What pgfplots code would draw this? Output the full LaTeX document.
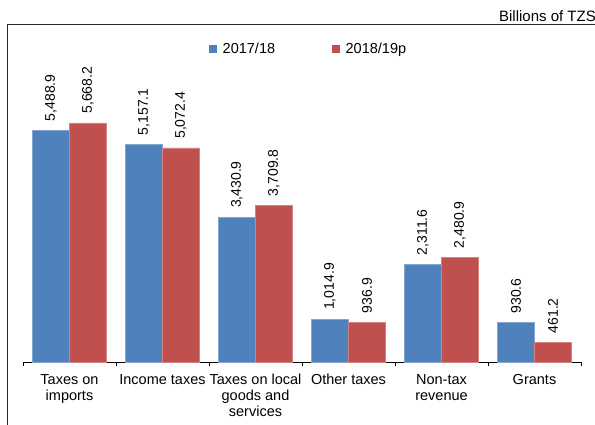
\documentclass[border=0pt]{standalone}
\usepackage{fontspec}
\setmainfont{Liberation Sans}
\usepackage{pgfplots}
\pgfplotsset{compat=1.18}
\definecolor{cblue}{HTML}{4F81BD}
\definecolor{cred}{HTML}{C0504D}
\begin{document}
\begin{tikzpicture}[x=1pt,y=1pt]
\useasboundingbox (0,0) rectangle (595,425);
\draw[line width=1pt,black!85] (7,0) -- (7,400) -- (596,400);
\node[anchor=east,font=\fontsize{15}{17}\selectfont,inner sep=0pt] at (596,409) {Billions of TZS};
\begin{axis}[
  at={(23pt,63pt)}, anchor=south west,
  scale only axis,
  width=558pt, height=337.6pt,
  ymin=0, ymax=8000,
  xmin=-0.5, xmax=5.5,
  ybar=0pt, bar width=37pt,
  axis x line*=bottom,
  axis y line=none,
  axis line style={black, line width=0.8pt},
  xtick={0,1,2,3,4,5},
  xticklabels={Taxes on\\imports, Income taxes, Taxes on local\\goods and\\services, Other taxes, Non-tax\\revenue, Grants},
  major tick length=0pt,
  minor xtick={-0.5,0.5,1.5,2.5,3.5,4.5,5.5},
  minor tick length=4pt,
  tick align=outside,
  minor tick style={black, line width=0.8pt},
  xticklabel style={align=center, font=\fontsize{14.5}{16}\selectfont, inner sep=0pt, yshift=-12pt},
  /pgf/number format/assume math mode=true,
  clip=false,
  nodes near coords={\pgfmathprintnumber[fixed,fixed zerofill,precision=1,1000 sep={,}]{\pgfplotspointmeta}},
  every node near coord/.append style={rotate=90, anchor=west, font=\fontsize{14}{16}\selectfont, black, xshift=9pt, inner sep=0pt},
  legend style={at={(0.512,0.927)}, anchor=center, draw=none, fill=none, legend columns=2,
    font=\fontsize{14.5}{16}\selectfont,
    /tikz/every odd column/.append style={column sep=4pt},
    /tikz/every even column/.append style={column sep=55pt}},
]
\addplot[fill=cblue, draw=cblue!70!white, line width=0.5pt,
  legend image code/.code={\fill[cblue] (0pt,-3.5pt) rectangle (7pt,3.5pt);}]
  coordinates {(0,5488.9) (1,5157.1) (2,3430.9) (3,1014.9) (4,2311.6) (5,930.6)};
\addlegendentry{2017/18}
\addplot[fill=cred, draw=cred!70!white, line width=0.5pt,
  legend image code/.code={\fill[cred] (0pt,-3.5pt) rectangle (7pt,3.5pt);}]
  coordinates {(0,5668.2) (1,5072.4) (2,3709.8) (3,936.9) (4,2480.9) (5,461.2)};
\addlegendentry{2018/19p}
\end{axis}
\end{tikzpicture}
\end{document}
